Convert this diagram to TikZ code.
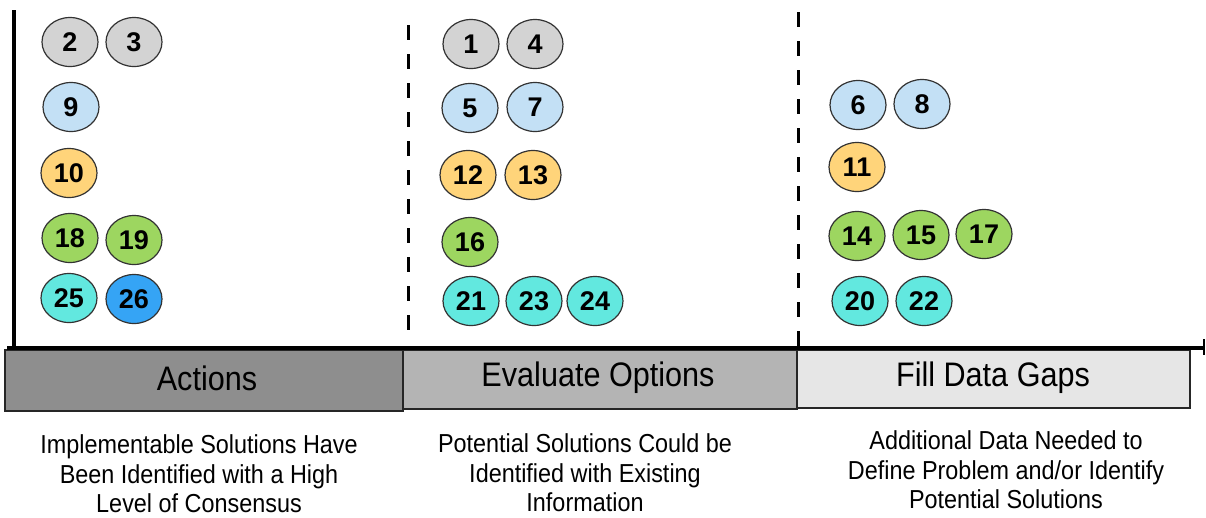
\documentclass[tikz,border=0pt]{standalone}
\usepackage{fontspec}
\setmainfont{Liberation Sans}
\newfontfamily\narrowsans[FakeStretch=0.9]{Liberation Sans}
\usetikzlibrary{shapes.geometric,calc}
\definecolor{grayball}{HTML}{D3D3D3}
\definecolor{blueball}{HTML}{C3E0F5}
\definecolor{orangeball}{HTML}{FFD47A}
\definecolor{greenball}{HTML}{9DD660}
\definecolor{cyanball}{HTML}{62E8DF}
\definecolor{deepball}{HTML}{35A4F5}
\definecolor{bandA}{HTML}{8E8E8E}
\definecolor{bandB}{HTML}{B4B4B4}
\definecolor{bandC}{HTML}{E6E6E6}

\begin{document}
\begin{tikzpicture}[x=1pt, y=-1pt,
    ball/.style={draw=black!80, line width=1.2pt, ellipse, minimum width=56pt,
      minimum height=49pt, inner sep=0pt, font=\fontsize{27}{30}\selectfont\bfseries},
    band/.style={draw=black!85, line width=1.5pt, rectangle, inner sep=0pt},
    bandtext/.style={font=\narrowsans\fontsize{34}{40}\selectfont},
    caption/.style={align=center, font=\narrowsans\fontsize{26}{29.5}\selectfont},
    divider/.style={line width=3pt, dash pattern=on 15pt off 14pt}]
      \useasboundingbox (0,0) rectangle (1206,517);
      % bands under the axis
      \node (actions) at (204,380.5) [band, fill=bandA, minimum width=398pt, minimum height=61pt] {};
      \node (evaluate) at (600,379.5) [band, fill=bandB, minimum width=394pt, minimum height=59pt] {};
      \node (filldata) at (993.5,379) [band, fill=bandC, minimum width=393pt, minimum height=58pt] {};
      \node (actionsT) at (207,378) [bandtext] {Actions};
      \node (evaluateT) at (598,378) [bandtext] {Evaluate Options};
      \node (filldataT) at (993,378) [bandtext] {Fill Data Gaps};
      % axes
      \coordinate (top) at (14,10);
      \coordinate (origin) at (14,348);
      \coordinate (left) at (7,348);
      \coordinate (right) at (1204,348);
      \draw[line width=4.5pt] (top) -- (origin);
      \draw[line width=4.5pt] (left) -- (right);
      \draw[line width=2.5pt] ($(right)+(0,-9)$) -- ($(right)+(0,7)$);
      % dashed dividers
      \coordinate (d1top) at (408,25);
      \coordinate (d1bot) at (408,333);
      \coordinate (d2top) at (798,12);
      \coordinate (d2bot) at (798,348);
      \draw[divider] (d1top) -- (d1bot);
      \draw[divider] (d2top) -- (d2bot);
      % actions
      \node (b2) at (70,42) [ball, fill=grayball] {2};
      \node (b3) at (134,42) [ball, fill=grayball] {3};
      \node (b9) at (71,107) [ball, fill=blueball] {9};
      \node (b10) at (69,173) [ball, fill=orangeball] {10};
      \node (b18) at (70,238) [ball, fill=greenball] {18};
      \node (b19) at (134,240) [ball, fill=greenball] {19};
      \node (b25) at (69,298) [ball, fill=cyanball] {25};
      \node (b26) at (134,299) [ball, fill=deepball] {26};
      % evaluate options
      \node (b1) at (471,44) [ball, fill=grayball] {1};
      \node (b4) at (535,44) [ball, fill=grayball] {4};
      \node (b5) at (470,108) [ball, fill=blueball] {5};
      \node (b7) at (535,107) [ball, fill=blueball] {7};
      \node (b12) at (468,175) [ball, fill=orangeball] {12};
      \node (b13) at (533,175) [ball, fill=orangeball] {13};
      \node (b16) at (470,242) [ball, fill=greenball] {16};
      \node (b21) at (471,301) [ball, fill=cyanball] {21};
      \node (b23) at (534,301) [ball, fill=cyanball] {23};
      \node (b24) at (595,301) [ball, fill=cyanball] {24};
      % fill data gaps
      \node (b6) at (858,105) [ball, fill=blueball] {6};
      \node (b8) at (922,104) [ball, fill=blueball] {8};
      \node (b11) at (857,167) [ball, fill=orangeball] {11};
      \node (b14) at (857,236) [ball, fill=greenball] {14};
      \node (b15) at (921,235) [ball, fill=greenball] {15};
      \node (b17) at (984,234) [ball, fill=greenball] {17};
      \node (b20) at (860,301) [ball, fill=cyanball] {20};
      \node (b22) at (924,301) [ball, fill=cyanball] {22};
      % captions
      \node (capA) at (199,474) [caption] {Implementable Solutions Have\\Been Identified with a High\\Level of Consensus};
      \node (capB) at (585,473) [caption] {Potential Solutions Could be\\Identified with Existing\\Information};
      \node (capC) at (1006,470) [caption] {Additional Data Needed to\\Define Problem and/or Identify\\Potential Solutions};
    \end{tikzpicture}
\end{document}
